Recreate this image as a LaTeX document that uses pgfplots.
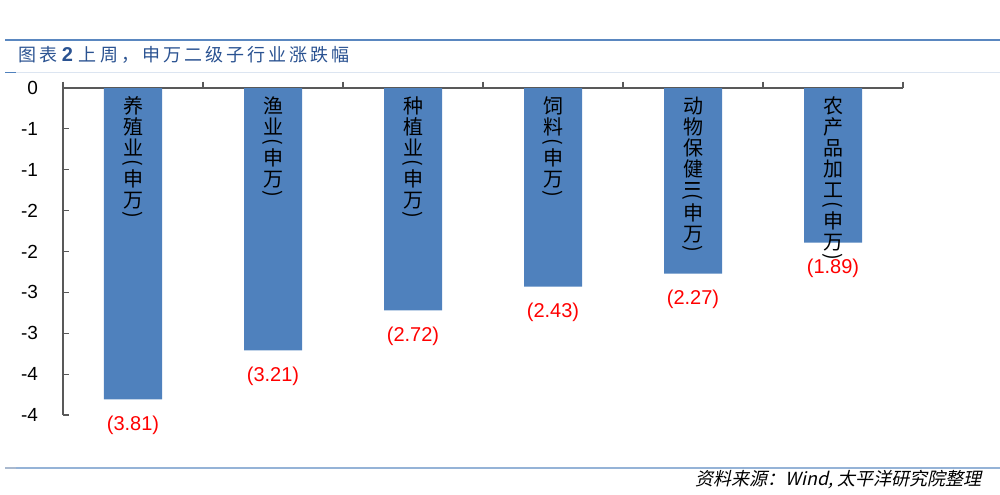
\documentclass[border=0pt]{standalone}
\usepackage{pgfplots}
\pgfplotsset{compat=1.18}
\usepackage{graphicx}
\usepackage{fontspec}
\setmainfont{Liberation Sans}
\newfontfamily\cjk{Noto Sans CJK SC}
\newfontfamily\cjktitle[LetterSpace=17]{Noto Sans CJK SC}
\newfontfamily\cjkit[FakeSlant=0.22]{Noto Sans CJK SC}
\definecolor{barblue}{HTML}{4F81BD}
\definecolor{axisgrey}{HTML}{595959}
\definecolor{titleblue}{HTML}{2A5291}
\definecolor{topline}{HTML}{5A87C0}
\definecolor{secline}{HTML}{DCE5F1}
\definecolor{botline}{HTML}{95B3D7}
\definecolor{botseg}{HTML}{A9B9CF}
\newcommand{\vc}[1]{\hbox to 14pt{\hss\vrule width0pt height8.5pt depth2pt #1\hss}}
\newcommand{\vr}[1]{\hbox to 14pt{\hss\vrule width0pt height4.6pt depth0pt\rotatebox[origin=c]{-90}{#1}\hss}}
\newcommand{\vstack}[1]{\vbox{\offinterlineskip #1}}
\begin{document}
\begin{tikzpicture}
\path[use as bounding box] (0,0) rectangle (500pt,247pt);
% header lines
\draw[topline, line width=0.7pt] (2.5pt,227pt) -- (500pt,227pt);
\draw[secline, line width=0.6pt] (2.5pt,210.8pt) -- (500pt,210.8pt);
\draw[barblue, line width=0.6pt] (2.5pt,210.8pt) -- (8pt,210.8pt);
\node[anchor=west, inner sep=0pt, text=titleblue, font=\fontsize{9}{12}\selectfont] at (9pt,219.5pt) {\cjktitle 图表\hspace{2.2pt}{\fontspec{Liberation Sans}\fontsize{10}{12}\selectfont\bfseries 2}\hspace{3pt}上周，申万二级子行业涨跌幅};
% footer
\draw[botline, line width=0.7pt] (2.5pt,13pt) -- (500pt,13pt);
\draw[botseg, line width=0.7pt] (2.5pt,13pt) -- (8pt,13pt);
\node[anchor=east, inner sep=0pt, font=\fontsize{9}{10}\selectfont] at (491pt,7pt) {\cjkit 资料来源：Wind, 太平洋研究院整理};
\begin{axis}[
  at={(31.5pt,203pt)}, anchor=north west,
  scale only axis, width=420pt, height=163.5pt,
  xmin=-0.5, xmax=5.5, ymin=-4, ymax=0,
  axis x line*=top, axis y line*=left,
  axis line style={draw=axisgrey, line width=0.8pt},
  tick style={draw=axisgrey, line width=0.6pt},
  major tick length=3.2pt,
  tick align=inside,
  xtick={-0.5,0.5,1.5,2.5,3.5,4.5,5.5},
  xticklabels={},
  ytick={-4,-3.5,-3,-2.5,-2,-1.5,-1,-0.5,0},
  yticklabels={-4,-4,-3,-3,-2,-2,-1,-1,0},
  yticklabel style={font=\fontsize{9.5}{11}\selectfont, xshift=-9pt},
  clip=false,
  ybar, bar width=29pt,
]
\addplot[fill=barblue, draw=none,
  nodes near coords={(\pgfplotspointmeta)},
  point meta=explicit symbolic,
  every node near coord/.append style={text=red, font=\fontsize{10}{12}\selectfont, inner sep=0pt, anchor=north, yshift=-8pt}]
  coordinates {(0,-3.81)[3.81] (1,-3.21)[3.21] (2,-2.72)[2.72] (3,-2.43)[2.43] (4,-2.27)[2.27] (5,-1.89)[1.89]};
\node[anchor=north, inner sep=0pt, yshift=-4pt, font=\cjk\fontsize{10}{10}\selectfont] at (axis cs:0,0) {\vstack{\vc{养}\vc{殖}\vc{业}\vr{(}\vc{申}\vc{万}\vr{)}}};
\node[anchor=north, inner sep=0pt, yshift=-4pt, font=\cjk\fontsize{10}{10}\selectfont] at (axis cs:1,0) {\vstack{\vc{渔}\vc{业}\vr{(}\vc{申}\vc{万}\vr{)}}};
\node[anchor=north, inner sep=0pt, yshift=-4pt, font=\cjk\fontsize{10}{10}\selectfont] at (axis cs:2,0) {\vstack{\vc{种}\vc{植}\vc{业}\vr{(}\vc{申}\vc{万}\vr{)}}};
\node[anchor=north, inner sep=0pt, yshift=-4pt, font=\cjk\fontsize{10}{10}\selectfont] at (axis cs:3,0) {\vstack{\vc{饲}\vc{料}\vr{(}\vc{申}\vc{万}\vr{)}}};
\node[anchor=north, inner sep=0pt, yshift=-4pt, font=\cjk\fontsize{10}{10}\selectfont] at (axis cs:4,0) {\vstack{\vc{动}\vc{物}\vc{保}\vc{健}\vr{II}\vr{(}\vc{申}\vc{万}\vr{)}}};
\node[anchor=north, inner sep=0pt, yshift=-4pt, font=\cjk\fontsize{10}{10}\selectfont] at (axis cs:5,0) {\vstack{\vc{农}\vc{产}\vc{品}\vc{加}\vc{工}\vr{(}\vc{申}\vc{万}\vr{)}}};
\end{axis}
\end{tikzpicture}
\end{document}
